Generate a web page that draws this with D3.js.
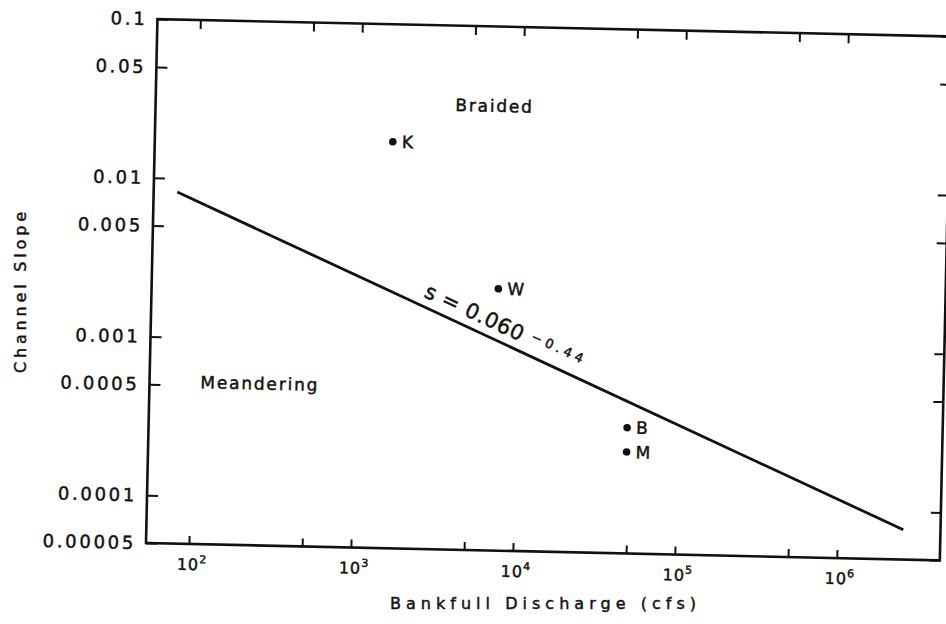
<!DOCTYPE html>
<html>
<head>
<meta charset="utf-8">
<script src="https://cdn.jsdelivr.net/npm/d3@7"></script>
<style>
  html, body { margin: 0; padding: 0; background: #fff; }
  svg { display: block; }
  text { font-family: "DejaVu Sans", "Liberation Sans", sans-serif; fill: #111; stroke: #111; stroke-width: 0.45px; }
</style>
</head>
<body>
<svg id="chart" width="946" height="624"></svg>
<script>
// ---- data ----
const yTickValues = [0.1, 0.05, 0.01, 0.005, 0.001, 0.0005, 0.0001, 0.00005];
const yTickLabels = ["0.1", "0.05", "0.01", "0.005", "0.001", "0.0005", "0.0001", "0.00005"];
const xTickValues = [1e2, 5e2, 1e3, 5e3, 1e4, 5e4, 1e5, 5e5, 1e6];
const xLabelValues = [1e2, 1e3, 1e4, 1e5, 1e6];
const xLabelExponents = ["2", "3", "4", "5", "6"];
const pointNames = ["K", "W", "B", "M"];
const pointQ = [1600, 7500, 48800, 48800];
const pointS = [0.0182, 0.00223, 0.00031, 0.000218];
const lineQ = [76, 2.55e6];
const lineS = [0.0082, 0.000077];
const regionNames = ["Braided", "Meandering"];
const regionQ = [3850, 112];
const regionS = [0.029, 0.00048];
const eqAnchorQ = 2450;
const eqMain = "s = 0.060";
const eqExp = "−0.44";
const xTitle = "Bankfull  Discharge  (cfs)";
const yTitle = "Channel  Slope";

// ---- layout ----
const svg = d3.select("#chart");
const mLeft = 146, mRight = 940, mTop = 19, mBottom = 543;
const x = d3.scaleLog().domain([Math.pow(10, 1.735), Math.pow(10, 6.636)]).range([mLeft, mRight]);
const y = d3.scaleLog().domain([0.00005, 0.1]).range([mBottom, mTop]);

// scanned page is slightly rotated
const g = svg.append("g").attr("transform", `rotate(1.25,${mLeft},${mBottom})`);

// frame
g.append("rect")
  .attr("x", mLeft).attr("y", mTop)
  .attr("width", mRight - mLeft).attr("height", mBottom - mTop)
  .attr("fill", "none").attr("stroke", "#111").attr("stroke-width", 2.6);

// axes
const axL = d3.axisLeft(y).tickValues(yTickValues)
  .tickFormat((d, i) => yTickLabels[i]).tickSizeInner(-11).tickSizeOuter(0).tickPadding(10);
const gL = g.append("g").attr("transform", `translate(${mLeft},0)`).call(axL);
const axR = d3.axisRight(y).tickValues(yTickValues).tickFormat("").tickSizeInner(-10).tickSizeOuter(0);
const gR = g.append("g").attr("transform", `translate(${mRight},0)`).call(axR);
const axB = d3.axisBottom(x).tickValues(xTickValues).tickFormat("").tickSizeInner(-8).tickSizeOuter(0);
const gB = g.append("g").attr("transform", `translate(0,${mBottom})`).call(axB);
const axT = d3.axisTop(x).tickValues(xTickValues).tickFormat("").tickSizeInner(-9).tickSizeOuter(0);
const gT = g.append("g").attr("transform", `translate(0,${mTop})`).call(axT);

[gL, gR, gB, gT].forEach(a => {
  a.select(".domain").remove();
  a.selectAll(".tick line").attr("stroke", "#111").attr("stroke-width", 2);
});
gL.attr("font-family", null).attr("font-size", null);
gL.selectAll(".tick text")
  .style("font-size", "18px").style("letter-spacing", "2.7px")
  .attr("fill", "#111");

// x labels 10^n
const xl = g.append("g").selectAll("text").data(xLabelValues).join("text")
  .attr("x", d => x(d) + 3).attr("y", mBottom + 26)
  .attr("text-anchor", "middle")
  .style("font-size", "16px");
xl.append("tspan").text("10").style("letter-spacing", "1px");
xl.append("tspan").text((d, i) => xLabelExponents[i])
  .attr("dy", -7).style("font-size", "11px");

// regression line
const lineData = lineQ.map((q, i) => [q, lineS[i]]);
g.append("path")
  .datum(lineData)
  .attr("d", d3.line().x(d => x(d[0])).y(d => y(d[1])))
  .attr("fill", "none").attr("stroke", "#111").attr("stroke-width", 2.8);

// equation along line
const t = (Math.log10(eqAnchorQ) - Math.log10(lineQ[0])) / (Math.log10(lineQ[1]) - Math.log10(lineQ[0]));
const eqS = Math.pow(10, Math.log10(lineS[0]) + t * (Math.log10(lineS[1]) - Math.log10(lineS[0])));
const ang = Math.atan2(y(lineS[1]) - y(lineS[0]), x(lineQ[1]) - x(lineQ[0])) * 180 / Math.PI;
const eq = g.append("text")
  .attr("transform", `translate(${x(eqAnchorQ)},${y(eqS)}) rotate(${ang}) translate(0,-9)`);
eq.append("tspan").text(eqMain).style("font-size", "21px").style("letter-spacing", "0.6px");
eq.append("tspan").text(eqExp).attr("dx", 8).attr("dy", -6).style("font-size", "13px").style("letter-spacing", "4px");

// points
const pts = pointNames.map((n, i) => ({ n, q: pointQ[i], s: pointS[i] }));
g.append("g").selectAll("circle").data(pts).join("circle")
  .attr("cx", d => x(d.q)).attr("cy", d => y(d.s)).attr("r", 3.8).attr("fill", "#111");
g.append("g").selectAll("text").data(pts).join("text")
  .attr("x", d => x(d.q) + 9).attr("y", d => y(d.s) + 6)
  .style("font-size", "17px").text(d => d.n);

// region labels
g.append("g").selectAll("text").data(regionNames).join("text")
  .attr("x", (d, i) => x(regionQ[i])).attr("y", (d, i) => y(regionS[i]))
  .style("font-size", "17px").style("letter-spacing", "1.8px")
  .text(d => d);

// axis titles
svg.append("text")
  .attr("x", 390).attr("y", 609)
  .attr("textLength", 306).attr("lengthAdjust", "spacing")
  .style("font-size", "16px").text(xTitle);
svg.append("text")
  .attr("transform", "translate(26,373) rotate(-90)")
  .attr("textLength", 161).attr("lengthAdjust", "spacing")
  .style("font-size", "16px").text(yTitle);
</script>
</body>
</html>
